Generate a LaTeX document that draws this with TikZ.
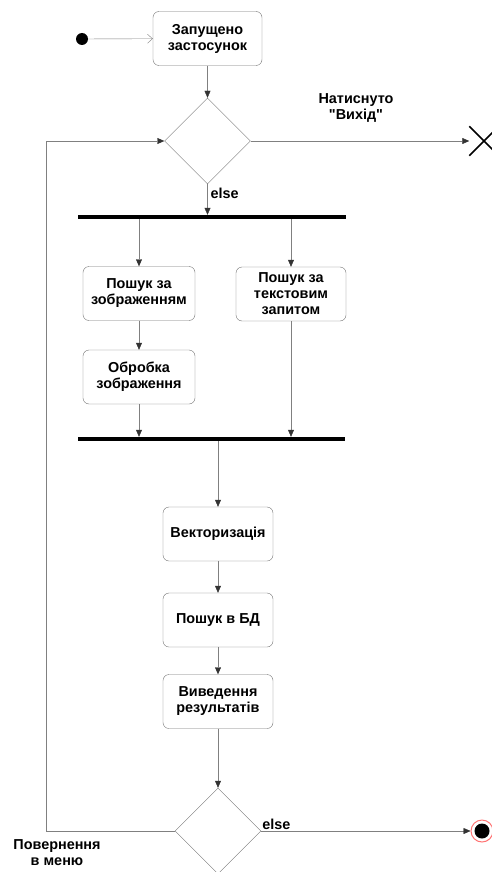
\documentclass[tikz,border=0pt]{standalone}
\usepackage{fontspec}
\setmainfont{Liberation Sans}
\usetikzlibrary{arrows.meta,shapes.geometric,shapes.misc}

\begin{document}
\begin{tikzpicture}[x=1pt,y=-1pt,
    act/.style={draw=black!55, rounded corners=6pt, minimum width=110pt, minimum height=54pt, align=center, inner sep=2pt, font=\bfseries\fontsize{14.4}{16}\selectfont},
    choice/.style={draw=black!55, diamond, minimum width=86pt, minimum height=86pt, inner sep=0pt},
    bar/.style={fill=black, minimum height=4pt, inner sep=0pt},
    flow/.style={draw=gray, -{Triangle[length=7pt,width=6pt,color=black!80]}},
    lbl/.style={align=center, font=\bfseries\fontsize{14.4}{16}\selectfont}]

    \useasboundingbox (0,0) rectangle (492,872);

    % start
    \node[circle, fill=black, minimum size=12pt, inner sep=0pt] (start) at (82,39) {};
    \node[act, minimum width=109pt] (launch) at (207.5,38.5) {Запущено\\застосунок};
    \draw[gray, -{Straight Barb[length=5pt,width=9pt]}] (start) -- (launch);

    % first choice
    \node[choice] (d1) at (207.5,141) {};
    \draw[flow] (launch.south) -- (d1.north);
    \node[cross out, draw=black, line width=1.5pt, minimum size=28pt, inner sep=0pt] (exitnode) at (484,141) {};
    \draw[flow] (d1.east) -- (exitnode);
    \node[lbl] (exitlbl) at (356,108) {Натиснуто\\\addfontfeature{Ligatures=TeXOff}"Вихід"};

    % fork
    \node[bar, minimum width=268pt] (bar1) at (212,217) {};
    \draw[flow] (d1.south) -- (d1.south |- bar1.north) node[lbl, pos=0.3, right, inner sep=3pt] {else};
    \node[act, minimum width=112pt] (img) at (139,293.5) {Пошук за\\зображенням};
    \node[act] (txt) at (291,294) {Пошук за\\текстовим\\запитом};
    \node[act, minimum width=112pt] (proc) at (139,377) {Обробка\\зображення};
    \draw[flow] (bar1.south -| img.north) -- (img.north);
    \draw[flow] (bar1.south -| txt.north) -- (txt.north);
    \draw[flow] (img) -- (proc);

    % join
    \node[bar, minimum width=267pt] (bar2) at (211.5,439) {};
    \draw[flow] (proc.south) -- (proc.south |- bar2.north);
    \draw[flow] (txt.south) -- (txt.south |- bar2.north);

    % search chain
    \node[act] (vect) at (218,534) {Векторизація};
    \node[act] (db) at (218,620) {Пошук в БД};
    \node[act] (res) at (218,701.5) {Виведення\\результатів};
    \draw[flow] (bar2.south -| vect.north) -- (vect.north);
    \draw[flow] (vect) -- (db);
    \draw[flow] (db) -- (res);

    % second choice
    \node[choice] (d2) at (218,831) {};
    \draw[flow] (res) -- (d2);
    \node[circle, draw=red!55, line width=1pt, fill=white, minimum size=22pt, inner sep=0pt] (final) at (482,831) {};
    \fill (final) circle (7.5);
    \draw[flow] (d2.east) -- (final);
    \node[lbl, anchor=south west, inner sep=1pt] at (d2.east) {else};

    % back to menu
    \coordinate (loop) at (46,141);
    \draw[flow] (d2.west) -| (loop) -- (d1.west);
    \node[lbl] (backlbl) at (57,853) {Повернення\\в меню};

\end{tikzpicture}
\end{document}
